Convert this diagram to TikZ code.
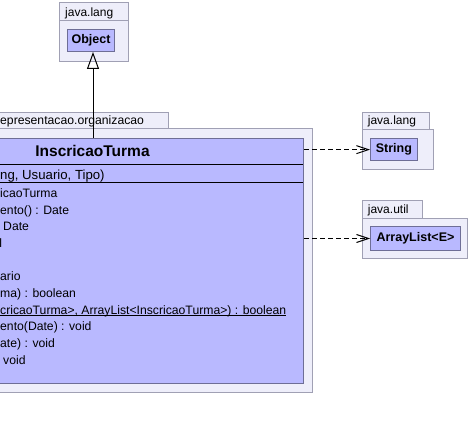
\documentclass[tikz,border=0pt]{standalone}
\usepackage{fontspec}
\setmainfont{Liberation Sans}
\usetikzlibrary{arrows.meta}
\definecolor{pkgfill}{RGB}{238,238,250}
\definecolor{pkgline}{RGB}{160,160,180}
\definecolor{clsfill}{RGB}{185,185,255}
\definecolor{clsline}{RGB}{110,110,150}
\begin{document}
\begin{tikzpicture}[x=1pt,y=-1pt,
  pkgbox/.style={draw=pkgline, fill=pkgfill, line width=1pt, inner sep=0pt, anchor=north west},
  clsbox/.style={draw=clsline, fill=clsfill, line width=1pt, inner sep=0pt, anchor=north west},
  sepline/.style={draw=black, line width=1pt},
  lbl/.style={inner sep=0pt, font=\fontsize{12}{14}\selectfont},
  member/.style={inner sep=0pt, anchor=base west, font=\fontsize{12.2}{15}\selectfont},
  clsname/.style={inner sep=0pt, font=\bfseries\fontsize{12.5}{15}\selectfont},
  titlename/.style={inner sep=0pt, anchor=base, font=\bfseries\fontsize{15.5}{18}\selectfont},
  inh/.style={draw=black, line width=1pt, -{Triangle[open, length=17pt, width=12pt, line width=1pt]}},
  dep/.style={draw=black, line width=1pt, dash pattern=on 5pt off 3pt, -{Straight Barb[length=12pt, width=8pt, line width=1pt]}}
]
\useasboundingbox[fill=white] (0,0) rectangle (470,430);

% top java.lang package
\node[pkgbox, minimum width=69pt, minimum height=41pt] (pkgObjBody) at (59,20) {};
\node[pkgbox, minimum width=69pt, minimum height=18pt] (pkgObjTab) at (59,2) {};
\node[lbl, anchor=base west] (pkgObjLbl) at (65,16.5) {java.lang};
\node[clsbox, minimum width=47pt, minimum height=22pt] (obj) at (67,29) {};
\node[clsname] (objName) at (obj.center) {Object};

% main package
\node[pkgbox, minimum width=218pt, minimum height=16pt] (pkgMainTab) at (-50,112) {};
\node[pkgbox, minimum width=362pt, minimum height=264pt] (pkgMainBody) at (-50,128) {};
\node[lbl, anchor=base west, font=\fontsize{12.2}{14}\selectfont] (pkgMainLbl) at (0,124.3) {epresentacao.organizacao};

% main class
\node[clsbox, minimum width=421pt, minimum height=245pt] (cls) at (-118,138) {};
\draw[sepline] (-117.5,165) -- (302.5,165);
\draw[sepline] (-117.5,183) -- (302.5,183);
\node[titlename] (clsName) at (92.5,156.7) {InscricaoTurma};
\node[member, font=\fontsize{13.2}{15}\selectfont] (m1) at (0,179.3) {ng, Usuario, Tipo)};
\node[member] (m2) at (0,197.3) {icaoTurma};
\node[member] (m3) at (0,214) {ento() : Date};
\node[member] (m4) at (3,230.7) {Date};
\node[member, anchor=base east] (m5) at (2.3,247.3) {l};
\node[member] (m6) at (0,280.7) {ario};
\node[member] (m7) at (0,297.3) {ma) : boolean};
\node[member] (m8) at (0,314) {cricaoTurma>, ArrayList<InscricaoTurma>) : boolean};
\draw[line width=0.9pt] ([yshift=-1.7pt]m8.base west) -- ([yshift=-1.7pt]m8.base east);
\node[member] (m9) at (0,330.7) {ento(Date) : void};
\node[member] (m10) at (0,347.3) {ate) : void};
\node[member] (m11) at (3,364) {void};

% right java.lang package
\node[pkgbox, minimum width=71.6pt, minimum height=40pt] (pkgStrBody) at (361.7,129) {};
\node[pkgbox, minimum width=67.3pt, minimum height=16.7pt] (pkgStrTab) at (361.7,112.3) {};
\node[lbl, anchor=base west] (pkgStrLbl) at (367.7,124.5) {java.lang};
\node[clsbox, minimum width=46.7pt, minimum height=21.7pt] (str) at (370,138.3) {};
\node[clsname] (strName) at (str.center) {String};

% java.util package
\node[pkgbox, minimum width=105.3pt, minimum height=40pt] (pkgUtilBody) at (361.7,217.7) {};
\node[pkgbox, minimum width=60pt, minimum height=17.7pt] (pkgUtilTab) at (361.7,200) {};
\node[lbl, anchor=base west] (pkgUtilLbl) at (367.7,213.3) {java.util};
\node[clsbox, minimum width=90pt, minimum height=24pt] (al) at (370,226) {};
\node[clsname] (alName) at (al.center) {ArrayList<E>};

% connectors
\draw[inh] (cls.north) -- (cls.north |- obj.south);
\draw[dep] (cls.east |- str.west) -- (str.west);
\draw[dep] (cls.east |- al.west) -- (al.west);
\end{tikzpicture}
\end{document}
